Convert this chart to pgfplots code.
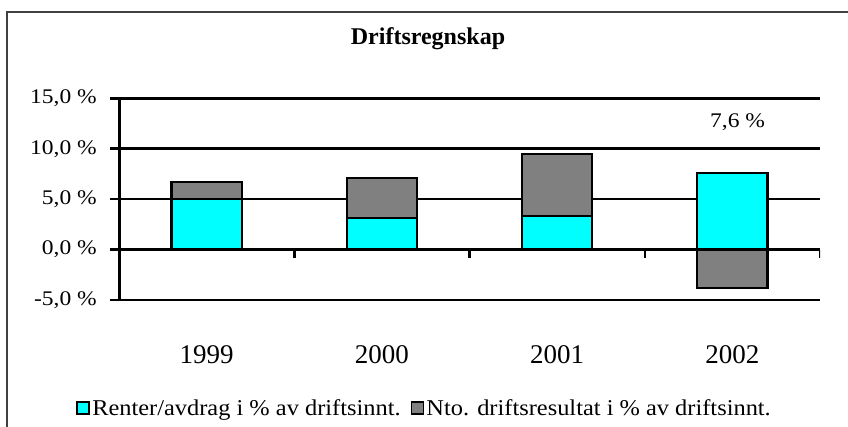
\documentclass[border=0pt]{standalone}
\usepackage{pgfplots}
\pgfplotsset{compat=1.18}
\usepackage{pgfplotstable}
\usepackage{fontspec}
\setmainfont{Liberation Serif}
\newfontfamily\wide{Liberation Serif}[FakeStretch=1.13]
\newfontfamily\legfont{Liberation Serif}[FakeStretch=1.08]
\definecolor{barcyan}{RGB}{0,255,255}
\definecolor{bargray}{RGB}{128,128,128}
\pgfplotstableread{
x renter nto
0 5.0 1.7
1 3.1 4.0
2 3.3 6.2
3 7.6 -3.8
}\data
\begin{document}
\begin{tikzpicture}[x=1pt,y=1pt]
\useasboundingbox (0,0) rectangle (848,426);
\draw[line width=1.3pt, black!75] (7,-20) -- (7,414) -- (860,414);
\node[font=\bfseries\fontsize{24}{26}\selectfont, anchor=base] at (428,381) {Driftsregnskap};
\begin{axis}[
  at={(119pt,126pt)}, anchor=south west,
  width=701pt, height=201.7pt, scale only axis,
  xmin=-0.5, xmax=3.5, ymin=-5, ymax=15,
  separate axis lines,
  axis x line*=bottom, axis y line*=left,
  x axis line style={draw=none},
  y axis line style={line width=3pt},
  tick align=outside,
  major tick length=9pt,
  xtick={0,1,2,3},
  xticklabels={1999,2000,2001,2002},
  xtick style={draw=none},
  ytick={-5,0,5,10,15},
  yticklabels={{-5,0 \%},{0,0 \%},{5,0 \%},{10,0 \%},{15,0 \%}},
  ytick style={line width=2.5pt, black},
  ymajorgrids,
  grid style={black, line width=2.5pt},
  yticklabel style={font=\wide\fontsize{20.8}{21}\selectfont, anchor=east, inner sep=0pt, xshift=-13pt},
  xticklabel style={font=\fontsize{27}{28}\selectfont, anchor=base, inner sep=0pt, yshift=-54pt},
  bar width=0.4,
  reverse legend,
  legend columns=2,
  legend style={draw=none, fill=none, at={(rel axis cs:0.436,-0.535)}, anchor=center,
    font=\legfont\fontsize{22.6}{23}\selectfont, inner sep=0pt,
    /tikz/every even column/.append style={column sep=8pt}},
  legend image code/.code={\draw[#1, line width=1.8pt] (0pt,-6pt) rectangle (12pt,6pt);},
]
\addplot[ybar, bar shift=0, fill=bargray, draw=black, line width=2.3pt]
  table[x=x, y expr={\thisrow{nto}>0 ? \thisrow{renter}+\thisrow{nto} : \thisrow{nto}}] {\data};
\addlegendentry{Nto. driftsresultat i \% av driftsinnt.}
\addplot[ybar, bar shift=0, fill=barcyan, draw=black, line width=2.3pt]
  table[x=x, y=renter] {\data};
\addlegendentry{Renter/avdrag i \% av driftsinnt.}
\pgfplotsinvokeforeach{0.5,1.5,2.5,3.5}{
  \draw[line width=2.5pt] (axis cs:#1,0) -- ++(0pt,-8pt);
}
\node[font=\wide\fontsize{20.8}{21}\selectfont] at (axis cs:3.03,12.6) {7,6 \%};
\node[font=\wide\fontsize{20.8}{21}\selectfont] at (axis cs:3.03,-7.04) {-3,8 \%};
\end{axis}
\end{tikzpicture}
\end{document}
